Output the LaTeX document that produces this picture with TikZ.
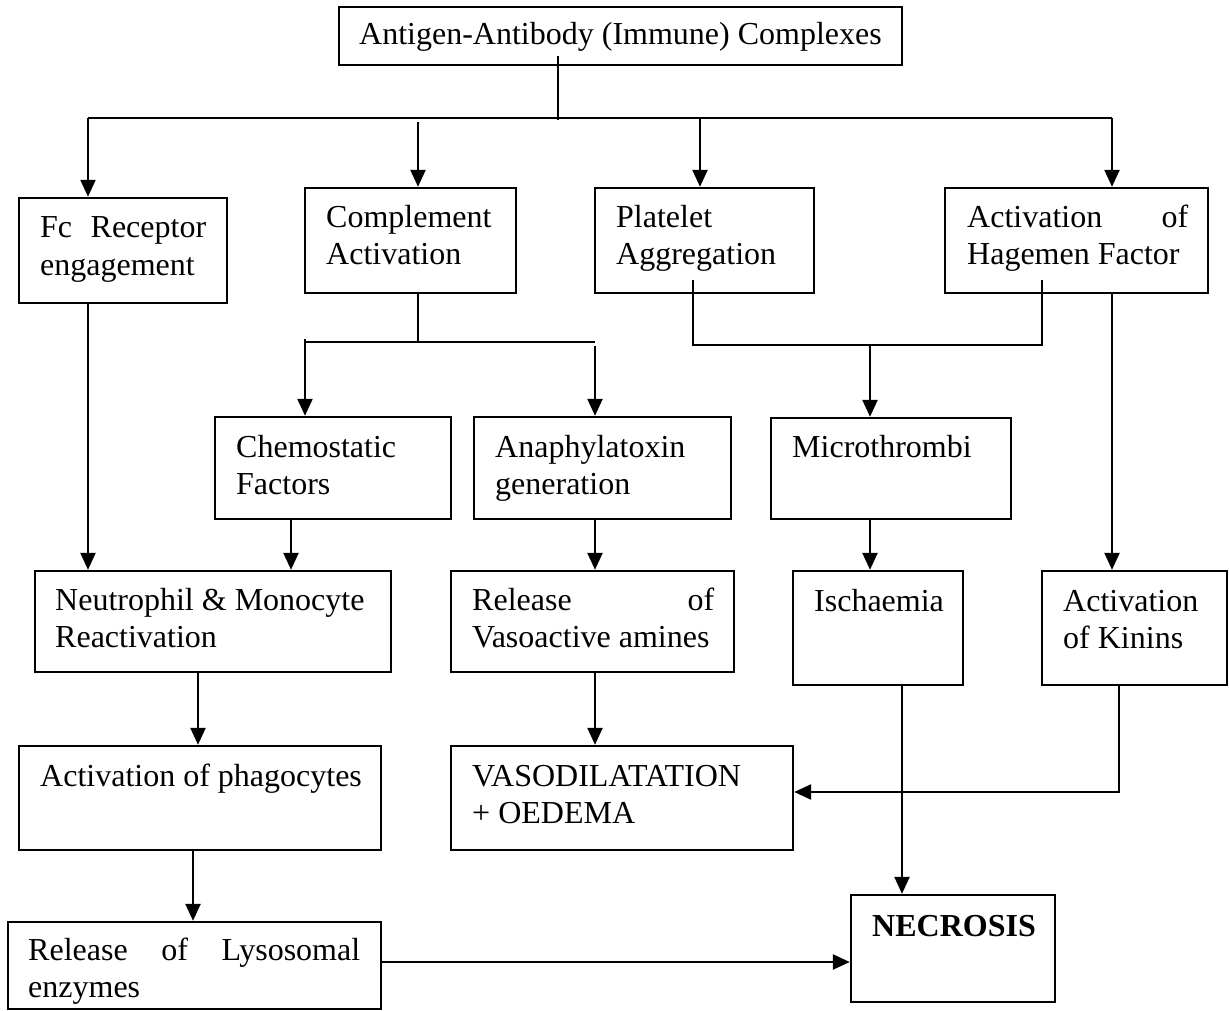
\documentclass[tikz,border=0pt]{standalone}
\usepackage{fontspec}
\setmainfont{Liberation Serif}
\usetikzlibrary{arrows.meta,calc}
\begin{document}
\begin{tikzpicture}[x=1pt,y=-1pt,
  box/.style={draw, line width=2.4pt, inner sep=0pt},
  txt/.style={inner sep=0pt, anchor=base west, font=\fontsize{32}{37}\selectfont},
  line/.style={line width=2.4pt},
  arr/.style={line width=2.4pt, -{Triangle[length=17pt,width=15pt]}}]
\useasboundingbox (0,0) rectangle (1229,1011);

% ---- boxes and their texts ----
\node[box, minimum width=563pt, minimum height=58pt] (top) at (620.5,36) {};
\node[txt, anchor=base] (topT) at (620.5,45) {Antigen-Antibody (Immune) Complexes};

\node[box, minimum width=208pt, minimum height=105pt] (fc) at (123,250.5) {};
\node[txt] (fcT) at (40,238) {\parbox[t]{200pt}{\makebox[166pt][s]{Fc Receptor}\\engagement}};

\node[box, minimum width=211pt, minimum height=105pt] (comp) at (410.5,240.5) {};
\node[txt] (compT) at (326,228) {\parbox[t]{200pt}{Complement\\Activation}};

\node[box, minimum width=219pt, minimum height=105pt] (plat) at (704.5,240.5) {};
\node[txt] (platT) at (616,228) {\parbox[t]{200pt}{Platelet\\Aggregation}};

\node[box, minimum width=263pt, minimum height=105pt] (hag) at (1076.5,240.5) {};
\node[txt] (hagT) at (967,228) {\parbox[t]{240pt}{\makebox[221pt][s]{Activation of}\\Hagemen Factor}};

\node[box, minimum width=236pt, minimum height=102pt] (chem) at (333,468) {};
\node[txt] (chemT) at (236,457) {\parbox[t]{220pt}{Chemostatic\\Factors}};

\node[box, minimum width=257pt, minimum height=102pt] (ana) at (602.5,468) {};
\node[txt] (anaT) at (495,457) {\parbox[t]{240pt}{Anaphylatoxin\\generation}};

\node[box, minimum width=240pt, minimum height=101pt] (micro) at (891,468.5) {};
\node[txt] (microT) at (792,457) {Microthrombi};

\node[box, minimum width=356pt, minimum height=101pt] (neut) at (213,621.5) {};
\node[txt] (neutT) at (55,610) {\parbox[t]{340pt}{Neutrophil \& Monocyte\\Reactivation}};

\node[box, minimum width=283pt, minimum height=101pt] (rel) at (592.5,621.5) {};
\node[txt] (relT) at (472,610) {\parbox[t]{260pt}{\makebox[242pt][s]{Release of}\\Vasoactive amines}};

\node[box, minimum width=170pt, minimum height=114pt] (isch) at (878,628) {};
\node[txt] (ischT) at (814,611) {Ischaemia};

\node[box, minimum width=185pt, minimum height=114pt] (kin) at (1134.5,628) {};
\node[txt] (kinT) at (1063,611) {\parbox[t]{170pt}{Activation\\of Kinins}};

\node[box, minimum width=362pt, minimum height=104pt] (phag) at (200,798) {};
\node[txt] (phagT) at (40,786) {Activation of phagocytes};

\node[box, minimum width=342pt, minimum height=104pt] (vaso) at (622,798) {};
\node[txt] (vasoT) at (472,786) {\parbox[t]{320pt}{VASODILATATION\\+ OEDEMA}};

\node[box, minimum width=373pt, minimum height=87pt] (lyso) at (194.5,965.5) {};
\node[txt] (lysoT) at (28,960) {\parbox[t]{350pt}{\makebox[332pt][s]{Release of Lysosomal}\\enzymes}};

\node[box, minimum width=204pt, minimum height=107pt] (nec) at (953,948.5) {};
\node[txt] (necT) at (872,936) {\textbf{NECROSIS}};

% ---- junction points of the connectors ----
\coordinate (stem) at (558,120);
\coordinate (busL) at (88,118);
\coordinate (busR) at (1112,118);
\coordinate (busC) at (418,122);
\coordinate (busP) at (700,118);
\coordinate (cs)   at (418,343);
\coordinate (csL)  at (305,342);
\coordinate (csR)  at (595,342);
\coordinate (pm)   at (693,345);
\coordinate (hm)   at (1042,345);
\coordinate (mm)   at (870,345);
\coordinate (xc)   at (291,0);
\coordinate (xn)   at (198,0);
\coordinate (xp)   at (193,0);
\coordinate (xi)   at (902,0);
\coordinate (kb)   at (1119,792);
\coordinate (ly)   at (0,962);

% ---- first split ----
\draw[line] ([yshift=10pt]top.south -| stem) -- (stem);
\draw[line] (busL) -- (busR);
\draw[arr] (busL) -- (busL |- fc.north);
\draw[arr] (busC) -- (busC |- comp.north);
\draw[arr] (busP) -- (busP |- plat.north);
\draw[arr] (busR) -- (busR |- hag.north);

% ---- complement branches ----
\draw[line] (comp.south -| cs) -- (cs);
\draw[line] (csL) -- (csR);
\draw[arr] ([yshift=3pt]csL) -- (csL |- chem.north);
\draw[arr] ([yshift=-4pt]csR) -- (csR |- ana.north);

% ---- platelets and Hageman factor join ----
\draw[line] ([yshift=14pt]plat.south -| pm) -- (pm) -- (hm) -- ([yshift=14pt]hag.south -| hm);
\draw[arr] (mm) -- (mm |- micro.north);
\draw[arr] (hag.south -| busR) -- (busR |- kin.north);

% ---- lower levels ----
\draw[arr] (fc.south -| busL) -- (busL |- neut.north);
\draw[arr] (chem.south -| xc) -- (xc |- neut.north);
\draw[arr] (ana.south -| csR) -- (csR |- rel.north);
\draw[arr] (micro.south -| mm) -- (mm |- isch.north);
\draw[arr] (neut.south -| xn) -- (xn |- phag.north);
\draw[arr] (rel.south -| csR) -- (csR |- vaso.north);
\draw[arr] (phag.south -| xp) -- (xp |- lyso.north);
\draw[arr] (isch.south -| xi) -- (xi |- nec.north);
\draw[arr] (kin.south -| kb) -- (kb) -- (vaso.east |- kb);
\draw[arr] (lyso.east |- ly) -- (nec.west |- ly);
\end{tikzpicture}
\end{document}
